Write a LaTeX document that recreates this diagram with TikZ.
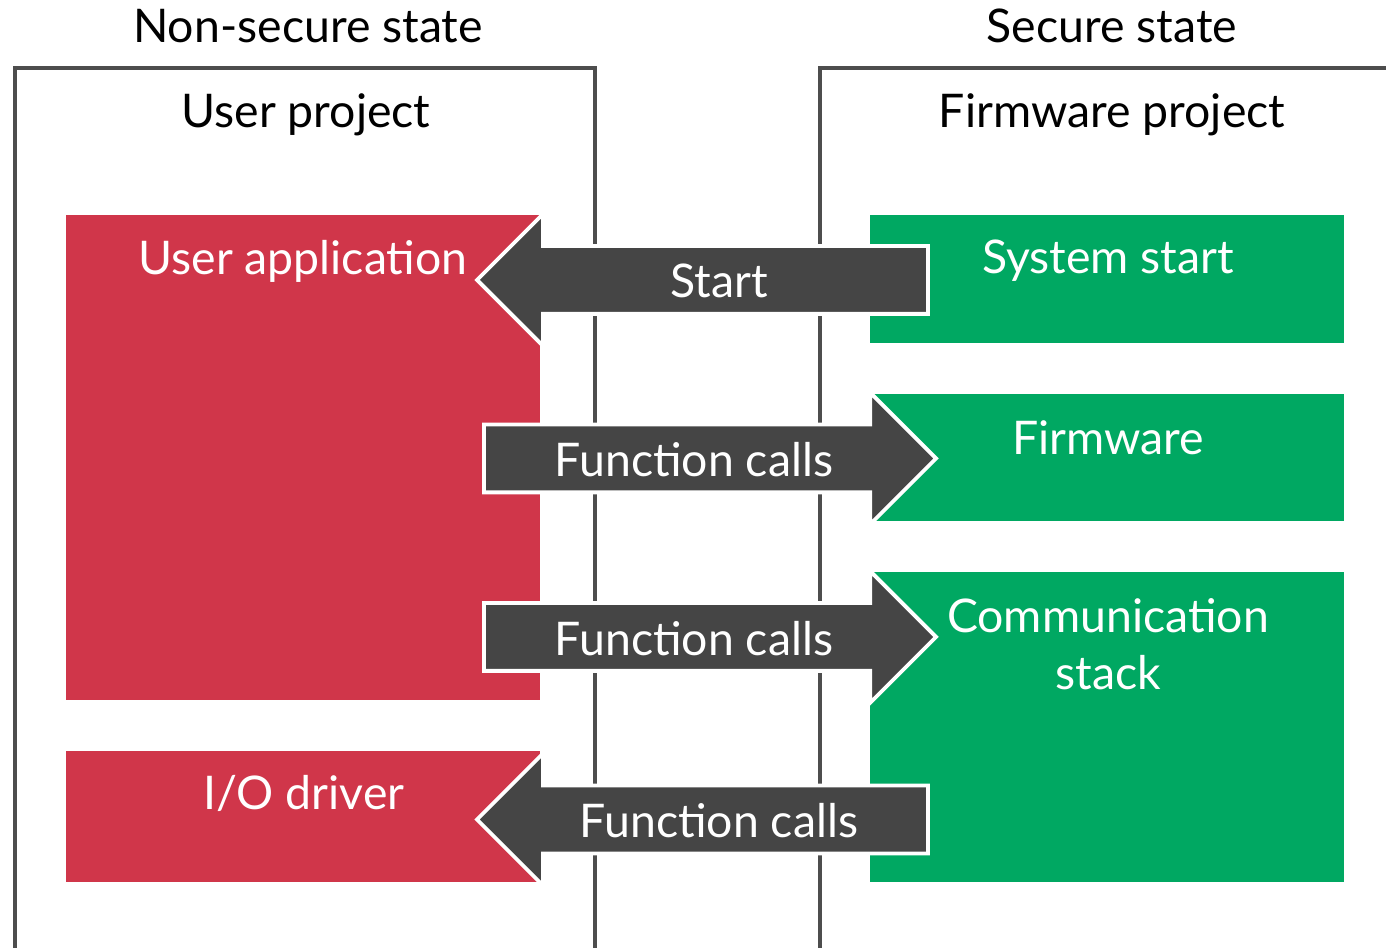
\documentclass[tikz,border=0pt]{standalone}
\usepackage{fontspec}
\setmainfont{Lato}
\usetikzlibrary{shapes.arrows}
\definecolor{appred}{RGB}{208,54,74}
\definecolor{fwgreen}{RGB}{0,168,98}
\definecolor{callgray}{RGB}{69,69,69}
\definecolor{framegray}{RGB}{77,77,77}
\tikzset{
  frame/.style={draw=framegray, line width=1pt, anchor=north west, inner sep=0, outer sep=0},
  redbox/.style={fill=appred, anchor=north west, inner sep=0, outer sep=0},
  greenbox/.style={fill=fwgreen, anchor=north west, inner sep=0, outer sep=0},
  lbl/.style={font=\fontsize{13.2}{16.5}\selectfont, anchor=base, inner sep=0, align=center},
  callarrow/.style={single arrow, single arrow tip angle=90, single arrow head extend=0.32cm,
    fill=callgray, draw=white, line width=1.1pt, inner xsep=0, inner ysep=0.32cm,
    outer sep=0, minimum height=4.51cm, anchor=tail}
}
\begin{document}
\begin{tikzpicture}
\useasboundingbox (0,0) rectangle (13.86,-9.48);
% the two projects
\node[frame, minimum width=5.8cm, minimum height=9.2cm] (userprj) at (0.15,-0.68) {};
\node[frame, minimum width=6.2cm, minimum height=9.2cm] (fwprj) at (8.20,-0.68) {};
\node[lbl] (nsec) at (3.08,-0.43) {Non-secure state};
\node[lbl] (sec) at (11.12,-0.43) {Secure state};
\node[lbl] (userlbl) at (3.06,-1.28) {User project};
\node[lbl] (fwprjlbl) at (11.12,-1.28) {Firmware project};
% blocks
\node[redbox, minimum width=4.74cm, minimum height=4.85cm] (app) at (0.66,-2.15) {};
\node[redbox, minimum width=4.74cm, minimum height=1.31cm] (io) at (0.66,-7.51) {};
\node[greenbox, minimum width=4.74cm, minimum height=1.28cm] (sysstart) at (8.70,-2.15) {};
\node[greenbox, minimum width=4.74cm, minimum height=1.27cm] (fw) at (8.70,-3.94) {};
\node[greenbox, minimum width=4.74cm, minimum height=3.10cm] (comm) at (8.70,-5.72) {};
% calls
\node[callarrow, shape border rotate=180] (start) at (9.28,-2.80) {};
\node[callarrow, minimum height=4.52cm] (fcone) at (4.84,-4.585) {};
\node[callarrow, minimum height=4.52cm] (fctwo) at (4.84,-6.37) {};
\node[callarrow, shape border rotate=180] (fcthree) at (9.28,-8.195) {};
\begin{scope}[every node/.append style={text=white}]
\node[lbl] (applbl) at (3.03,-2.75) {User application};
\node[lbl] (iolbl) at (3.04,-8.10) {I/O driver};
\node[lbl] (sslbl) at (11.08,-2.74) {System start};
\node[lbl] (fwlbl) at (11.08,-4.55) {Firmware};
\node[lbl] (commlbl) at (11.08,-6.90) {Communication\\stack};
\node[lbl] (startlbl) at (7.19,-2.98) {Start};
\node[lbl] (fconelbl) at (6.94,-4.77) {Function calls};
\node[lbl] (fctwolbl) at (6.94,-6.56) {Function calls};
\node[lbl] (fcthreelbl) at (7.19,-8.38) {Function calls};
\end{scope}
\end{tikzpicture}
\end{document}
